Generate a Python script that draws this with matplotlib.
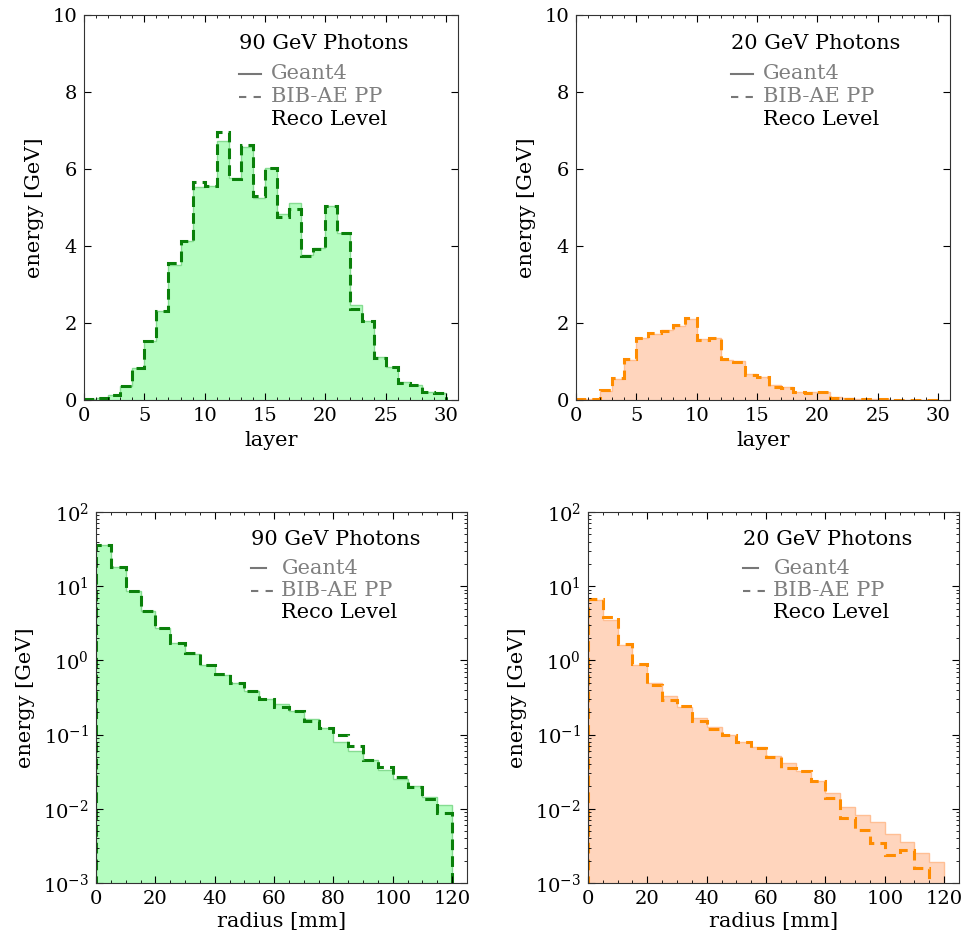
"""Longitudinal (layer) and radial energy profiles: Geant4 vs BIB-AE PP, reco level.

Four panels: 90 / 20 GeV photons, energy per layer (linear) and per radius bin (log).
Artifact: out.png
"""

import matplotlib
matplotlib.use("Agg")
import matplotlib.pyplot as plt
import numpy as np

plt.rcParams["font.family"] = ["DejaVu Serif"]
plt.rcParams["mathtext.fontset"] = "dejavuserif"

OUT_PNG = "out.png"

# --- Data --------------------------------------------------------------------
LAYER_EDGES = np.arange(0, 31, 1)
RADIUS_EDGES = np.arange(0, 125, 5)

G4_90_LAYER = [0.03, 0.05, 0.12, 0.36, 0.84, 1.54, 2.31, 3.52, 4.14, 5.54, 5.57, 6.73, 5.76, 6.58, 5.24,
               6.02, 4.83, 5.13, 3.78, 3.94, 5.04, 4.33, 2.47, 2.05, 1.11, 0.87, 0.48, 0.40, 0.22, 0.18]
BIB_90_LAYER = [0.03, 0.05, 0.13, 0.36, 0.84, 1.54, 2.31, 3.55, 4.14, 5.66, 5.57, 6.95, 5.74, 6.62, 5.30,
                6.02, 4.76, 4.96, 3.74, 3.92, 5.04, 4.33, 2.36, 2.05, 1.10, 0.87, 0.43, 0.40, 0.21, 0.18]
G4_20_LAYER = [0.02, 0.035, 0.23, 0.55, 1.03, 1.60, 1.72, 1.82, 1.93, 2.10, 1.59, 1.62, 1.05, 1.02, 0.68,
               0.61, 0.38, 0.35, 0.21, 0.20, 0.20, 0.08, 0.045, 0.035, 0.02, 0.015, 0.01, 0.008, 0.005, 0.004]
BIB_20_LAYER = [0.02, 0.035, 0.25, 0.57, 1.06, 1.60, 1.74, 1.80, 1.96, 2.13, 1.55, 1.62, 1.07, 1.00, 0.64,
                0.60, 0.35, 0.32, 0.21, 0.18, 0.20, 0.05, 0.04, 0.03, 0.02, 0.015, 0.01, 0.008, 0.005, 0.004]

G4_90_RADIUS = [35.5, 18.1, 8.7, 4.69, 2.76, 1.71, 1.22, 0.865, 0.64, 0.494, 0.389, 0.306, 0.257, 0.205,
                0.161, 0.124, 0.0796, 0.060, 0.0455, 0.0333, 0.0254, 0.0202, 0.0145, 0.0112]
BIB_90_RADIUS = [35.5, 18.1, 8.7, 4.69, 2.70, 1.71, 1.24, 0.865, 0.65, 0.494, 0.389, 0.306, 0.232, 0.205,
                 0.154, 0.124, 0.100, 0.070, 0.0455, 0.037, 0.0272, 0.0198, 0.0137, 0.00865]
G4_20_RADIUS = [6.47, 3.55, 1.63, 0.873, 0.494, 0.333, 0.232, 0.166, 0.128, 0.099, 0.0787, 0.0674, 0.0515,
                0.041, 0.0327, 0.0239, 0.0161, 0.0106, 0.0082, 0.00667, 0.00455, 0.00358, 0.00254, 0.00192]
BIB_20_RADIUS = [6.8, 3.86, 1.68, 0.89, 0.464, 0.295, 0.244, 0.153, 0.12, 0.099, 0.0787, 0.065, 0.050,
                 0.035, 0.0327, 0.0239, 0.0138, 0.0076, 0.00515, 0.0035, 0.00242, 0.00282, 0.00161, 0.0005]

GREEN = {"fill": "#b5fdc0", "edge": "#86dc92", "dash": "#0a800a"}
ORANGE = {"fill": "#ffd5bd", "edge": "#ffbf94", "dash": "#ff8c00"}
FS = 15
TICK_FS = 14


def _style(ax):
    """Ticks inside on all four sides, thin dark frame."""
    ax.tick_params(which="both", direction="in", top=True, right=True, labelsize=TICK_FS)
    ax.tick_params(which="major", length=5, pad=5)
    ax.tick_params(which="minor", length=2.5)
    for sp in ax.spines.values():
        sp.set_color("#333333")


def _legend(ax, title, x0, x_solid, x_dash, xt):
    """Hand-made legend: title, gray Geant4/BIB-AE entries, black 'Reco Level'."""
    tr = ax.transAxes
    ax.text(x0, 0.925, title, transform=tr, fontsize=FS, va="center")
    ax.plot([x0, x_solid], [0.848, 0.848], transform=tr, color="#777777", lw=1.5)
    ax.plot([x0, x_dash], [0.788, 0.788], transform=tr, color="#777777", lw=1.5, dashes=(3.5, 3.5))
    ax.text(xt, 0.848, "Geant4", transform=tr, fontsize=FS, va="center", color="#808080")
    ax.text(xt, 0.788, "BIB-AE PP", transform=tr, fontsize=FS, va="center", color="#808080")
    ax.text(xt, 0.729, "Reco Level", transform=tr, fontsize=FS, va="center", color="black")


def _hist(ax, edges, g4, bib, col, baseline):
    """Geant4 as filled step, BIB-AE as dashed step."""
    ax.stairs(g4, edges, fill=True, color=col["fill"], baseline=baseline)
    ax.stairs(g4, edges, color=col["edge"], lw=1.0, baseline=baseline)
    ax.stairs(bib, edges, color=col["dash"], lw=2.2, ls=(0, (3.5, 2)), baseline=baseline)


def main():
    fig = plt.figure(figsize=(9.62, 9.36), dpi=100)

    # Top row: energy per layer, linear scale.
    top = [(0.0873, G4_90_LAYER, BIB_90_LAYER, GREEN, "90 GeV Photons"),
           (0.5988, G4_20_LAYER, BIB_20_LAYER, ORANGE, "20 GeV Photons")]
    for left, g4, bib, col, title in top:
        ax = fig.add_axes([left, 0.5726, 0.389, 0.4113])
        _hist(ax, LAYER_EDGES, g4, bib, col, 0)
        ax.set_xlim(0, 31); ax.set_ylim(0, 10)
        ax.set_xticks([0, 5, 10, 15, 20, 25, 30]); ax.set_yticks([0, 2, 4, 6, 8, 10])
        ax.xaxis.set_minor_locator(matplotlib.ticker.MultipleLocator(1))
        ax.set_xlabel("layer", fontsize=FS, labelpad=4)
        ax.set_ylabel("energy [GeV]", fontsize=FS, labelpad=6)
        _style(ax)
        _legend(ax, title, 0.414, 0.474, 0.474, 0.499)

    # Bottom row: energy per radius bin, log scale.
    bottom = [(0.0998, G4_90_RADIUS, BIB_90_RADIUS, GREEN, "90 GeV Photons"),
              (0.6112, G4_20_RADIUS, BIB_20_RADIUS, ORANGE, "20 GeV Photons")]
    for left, g4, bib, col, title in bottom:
        ax = fig.add_axes([left, 0.0566, 0.3856, 0.3964])
        _hist(ax, RADIUS_EDGES, g4, bib, col, 1e-5)
        ax.set_yscale("log")
        ax.set_xlim(0, 125); ax.set_ylim(1e-3, 1e2)
        ax.set_xticks([0, 20, 40, 60, 80, 100, 120])
        ax.xaxis.set_minor_locator(matplotlib.ticker.MultipleLocator(5))
        ax.set_xlabel("radius [mm]", fontsize=FS, labelpad=3)
        ax.set_ylabel("energy [GeV]", fontsize=FS, labelpad=6)
        _style(ax)
        _legend(ax, title, 0.418, 0.458, 0.476, 0.50)

    fig.savefig(OUT_PNG, dpi=100)
    plt.close(fig)


if __name__ == "__main__":
    main()
